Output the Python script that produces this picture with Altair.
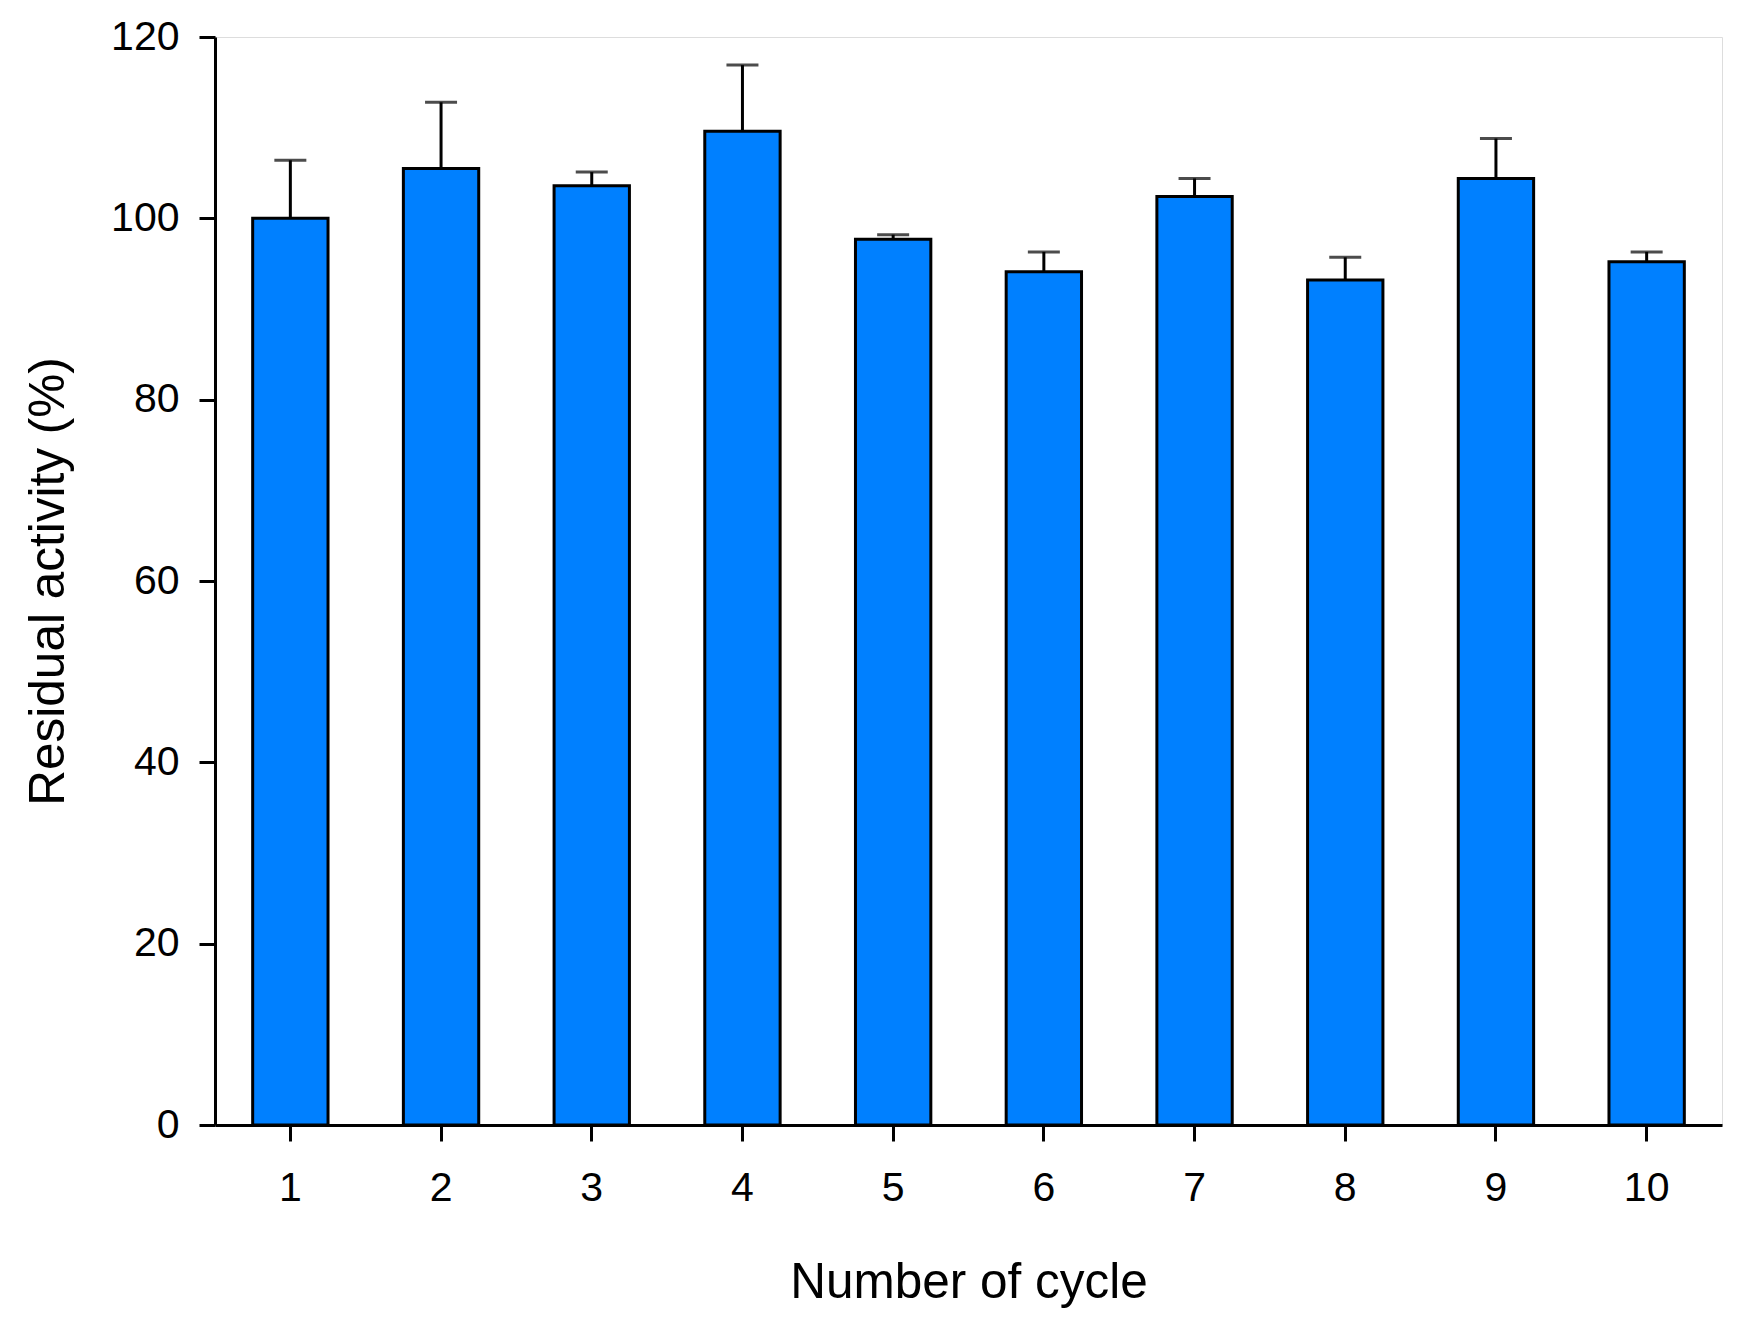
import altair as alt
import pandas as pd

cycles = [1, 2, 3, 4, 5, 6, 7, 8, 9, 10]
activity = [100.0, 105.5, 103.6, 109.6, 97.7, 94.1, 102.4, 93.2, 104.4, 95.2]
error_sd = [6.4, 7.3, 1.5, 7.3, 0.5, 2.2, 2.0, 2.5, 4.4, 1.1]
y_ticks = [0, 20, 40, 60, 80, 100, 120]

df = pd.DataFrame({"cycle": cycles, "activity": activity, "sd": error_sd})
df["upper"] = df["activity"] + df["sd"]

FONT = "Liberation Sans"
W, H = 1507, 1088

x_enc = alt.X(
    "cycle:O",
    scale=alt.Scale(paddingInner=0.5, paddingOuter=0.25),
    axis=alt.Axis(
        title="Number of cycle",
        labelAngle=0,
        labelFont=FONT,
        labelFontSize=41,
        labelColor="black",
        labelPadding=27,
        tickSize=16,
        tickWidth=3,
        tickColor="black",
        domainWidth=3,
        domainColor="black",
        titleFont=FONT,
        titleFontSize=49.5,
        titleFontWeight="normal",
        titleColor="black",
        titleBaseline="alphabetic",
        titleX=W / 2,
        titleY=172,
        titleAlign="center",
        grid=False,
    ),
)

y_scale = alt.Scale(domain=[0, 120], nice=False, zero=True)
y_axis = alt.Axis(
    title="Residual activity (%)",
    values=y_ticks,
    labelFont=FONT,
    labelFontSize=41,
    labelColor="black",
    labelPadding=20,
    tickSize=16,
    tickWidth=3,
    tickColor="black",
    domainWidth=3,
    domainColor="black",
    titleFont=FONT,
    titleFontSize=49.5,
    titleFontWeight="normal",
    titleColor="black",
    titleAngle=270,
    titleBaseline="alphabetic",
    titleAlign="center",
    titleX=-152,
    titleY=H / 2,
    grid=False,
)

base = alt.Chart(df)

bars = base.mark_bar(color="#0080FF", stroke="black", strokeWidth=3).encode(
    x=x_enc,
    y=alt.Y("activity:Q", scale=y_scale, axis=y_axis),
)

err = base.mark_rule(color="black", strokeWidth=3).encode(
    x=alt.X("cycle:O"),
    y=alt.Y("activity:Q"),
    y2=alt.Y2("upper:Q"),
)

cap = base.mark_tick(color="black", thickness=3, size=32).encode(
    x=alt.X("cycle:O"),
    y=alt.Y("upper:Q"),
)

chart = (
    alt.layer(bars, err, cap)
    .properties(
        width=W,
        height=H,
        autosize=alt.AutoSizeParams(type="none"),
        padding={"left": 207, "top": 29, "right": 10, "bottom": 190},
    )
    .configure_view(stroke=None)
    .configure(background="white")
)

chart.save("out.html", embed_options={"renderer": "svg", "actions": False})
